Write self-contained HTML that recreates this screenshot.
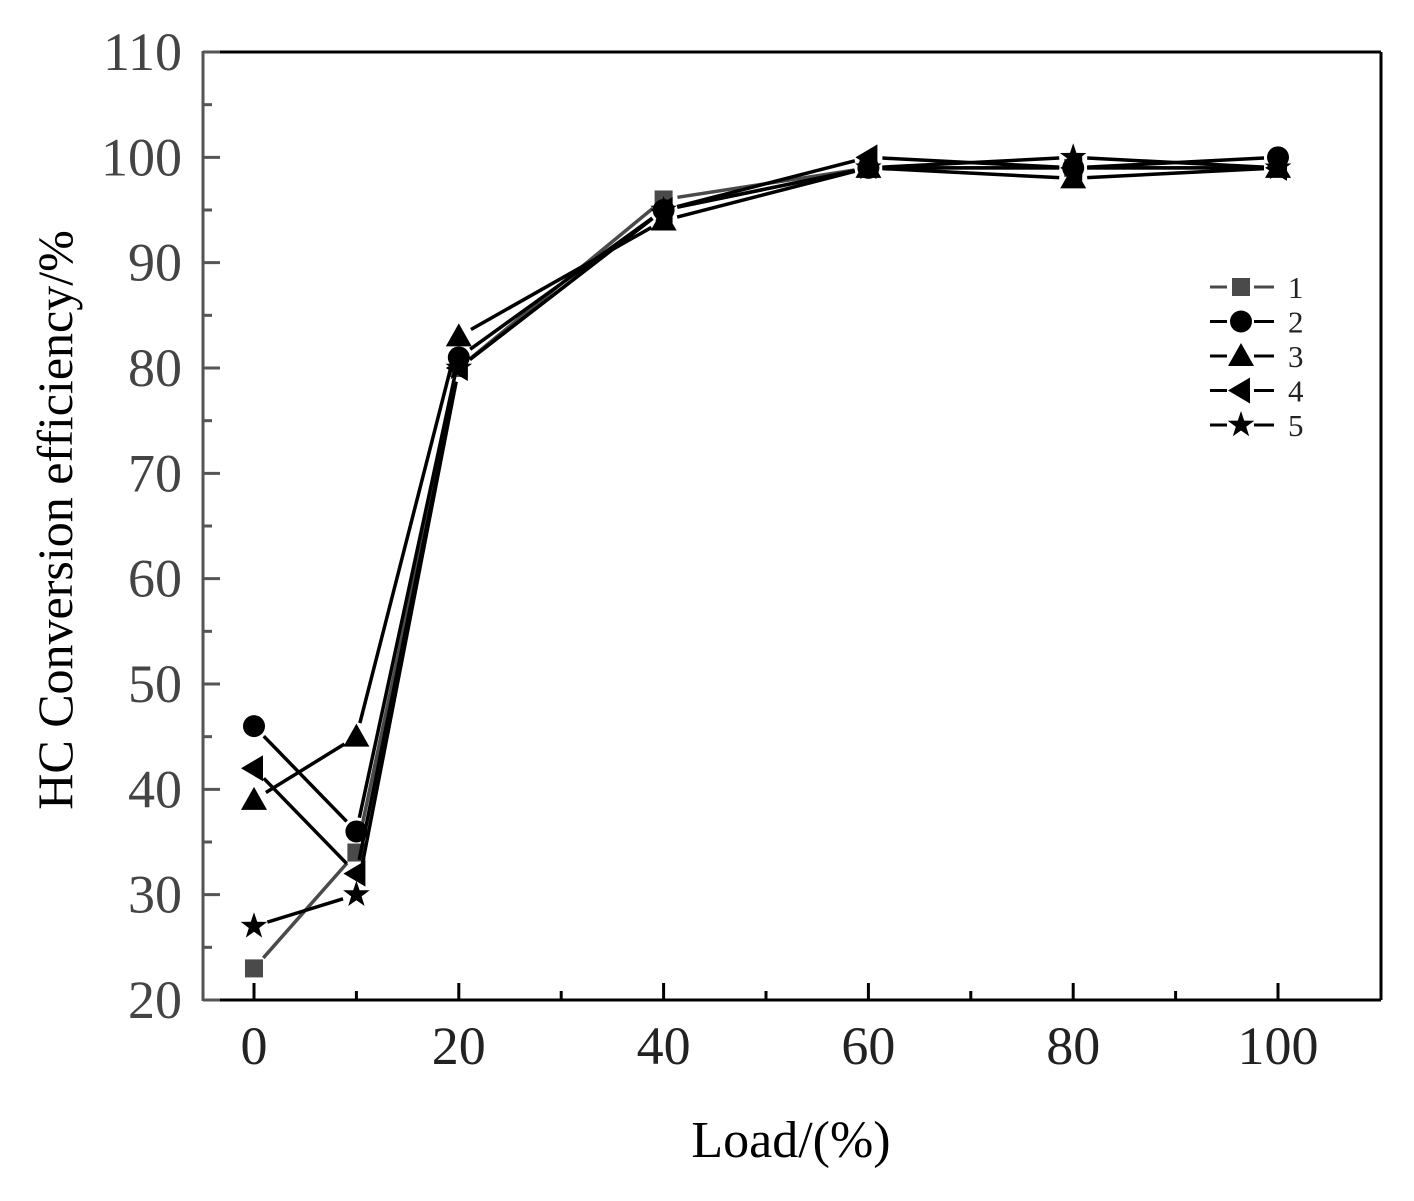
<!DOCTYPE html>
<html><head><meta charset="utf-8"><style>
html,body{margin:0;padding:0;background:#fff}
svg text{font-family:"Liberation Serif",serif}
</style></head><body>
<svg id="chart" width="1414" height="1196" viewBox="0 0 1414 1196" xmlns="http://www.w3.org/2000/svg">
<g id="grid"></g>
<g id="series"></g>
<g id="legend"></g>
<text transform="translate(72,520) rotate(-90)" text-anchor="middle" font-size="50" fill="#000">HC Conversion efficiency/%</text>
<text x="791" y="1157" text-anchor="middle" font-size="52" fill="#000">Load/(%)</text>
</svg>
<script>
const loads = [0, 10, 20, 40, 60, 80, 100];
const s1 = [23, 34, 80, 96, 99, 99, 99];
const s2 = [46, 36, 81, 95, 99, 99, 100];
const s3 = [39, 45, 83, 94, 99, 98, 99];
const s4 = [42, 32, 80, 95, 100, 99, 99];
const s5 = [27, 30, 80, 95, 99, 100, 99];
const seriesNames = ['1', '2', '3', '4', '5'];
const yTicks = [20, 30, 40, 50, 60, 70, 80, 90, 100, 110];
const xTicks = [0, 20, 40, 60, 80, 100];

const NS = 'http://www.w3.org/2000/svg';
const L = 203, R = 1381, T = 52, B = 1000;
function xs(v){ return 254 + v * 10.24; }
function ys(v){ return B - (v - 20) * (B - T) / 90; }
function mk(tag, attrs, parent){ const e = document.createElementNS(NS, tag); for (const k in attrs) e.setAttribute(k, attrs[k]); parent.appendChild(e); return e; }

const g = document.getElementById('grid');
let e;
e = mk('line', {x1:L, y1:T, x2:R, y2:T, stroke:'#000', 'stroke-width':3}, g);


e = mk('line', {x1:R, y1:T, x2:R, y2:B, stroke:'#000', 'stroke-width':3}, g);


e = mk('line', {x1:L, y1:B, x2:R, y2:B, stroke:'#000', 'stroke-width':3}, g);


e = mk('line', {x1:L, y1:T-1, x2:L, y2:B+1, stroke:'#555', 'stroke-width':3}, g);



yTicks.forEach((v, i) => {
  const y = ys(v);
  let t = mk('line', {x1:L, y1:y, x2:L+17, y2:y, stroke:'#555', 'stroke-width':3}, g);
  
  
  if (i < yTicks.length - 1) {
    const ym = ys(v + 5);
    let m = mk('line', {x1:L, y1:ym, x2:L+9, y2:ym, stroke:'#555', 'stroke-width':3}, g);
    
    
  }
  let tx = mk('text', {x:182, y:y+18, 'text-anchor':'end', 'font-size':54, fill:'#444'}, g);
  tx.textContent = v;
  
  
});
xTicks.forEach((v, i) => {
  const x = xs(v);
  let t = mk('line', {x1:x, y1:B, x2:x, y2:B-17, stroke:'#000', 'stroke-width':3}, g);
  
  
  if (i < xTicks.length - 1) {
    const xm = xs(v + 10);
    let m = mk('line', {x1:xm, y1:B, x2:xm, y2:B-9, stroke:'#000', 'stroke-width':3}, g);
    
    
  }
  let tx = mk('text', {x:x, y:1064, 'text-anchor':'middle', 'font-size':54, fill:'#222'}, g);
  tx.textContent = v;
  
  
});

function marker(type, x, y, color, parent){
  let m;
  if (type === 0) m = mk('rect', {x:x-9, y:y-9, width:18, height:18, fill:color}, parent);
  else if (type === 1) m = mk('circle', {cx:x, cy:y, r:11, fill:color}, parent);
  else if (type === 2) m = mk('polygon', {points:`${x},${y-13} ${x-13},${y+10} ${x+13},${y+10}`, fill:color}, parent);
  else if (type === 3) m = mk('polygon', {points:`${x-13},${y} ${x+9},${y-13} ${x+9},${y+13}`, fill:color}, parent);
  else {
    let p = [];
    for (let k = 0; k < 10; k++) { const r = k % 2 ? 5.5 : 14; const a = -Math.PI/2 + k*Math.PI/5; p.push((x + r*Math.cos(a)).toFixed(1) + ',' + (y + r*Math.sin(a)).toFixed(1)); }
    m = mk('polygon', {points:p.join(' '), fill:color}, parent);
  }
  return m;
}

const allSeries = [s1, s2, s3, s4, s5];
const colors = ['#4a4a4a', '#000', '#000', '#000', '#000'];
const sg = document.getElementById('series');
allSeries.forEach((s, si) => {
  const grp = mk('g', {}, sg);
  
  
  for (let i = 0; i < loads.length - 1; i++) {
    const x1 = xs(loads[i]), y1 = ys(s[i]), x2 = xs(loads[i+1]), y2 = ys(s[i+1]);
    const dx = x2 - x1, dy = y2 - y1, len = Math.hypot(dx, dy), gap = Math.min(14, len / 3);
    const ux = dx / len, uy = dy / len;
    let ln = mk('line', {x1:x1+ux*gap, y1:y1+uy*gap, x2:x2-ux*gap, y2:y2-uy*gap, stroke:colors[si], 'stroke-width':3.5}, grp);
    
    
  }
  s.forEach((v, i) => {
    const m = marker(si, xs(loads[i]), ys(v), colors[si], grp);
    
    
  });
});

const lg = document.getElementById('legend');
seriesNames.forEach((n, i) => {
  const y = 287 + i * 34.5;
  const eg = mk('g', {}, lg);
  
  
  mk('line', {x1:1210, y1:y, x2:1227, y2:y, stroke:colors[i], 'stroke-width':3}, eg);
  mk('line', {x1:1254, y1:y, x2:1274, y2:y, stroke:colors[i], 'stroke-width':3}, eg);
  marker(i, 1241, y, colors[i], eg);
  const t = mk('text', {x:1288, y:y+11, 'font-size':31, fill:'#222'}, eg);
  t.textContent = n;
});
</script>
</body></html>
